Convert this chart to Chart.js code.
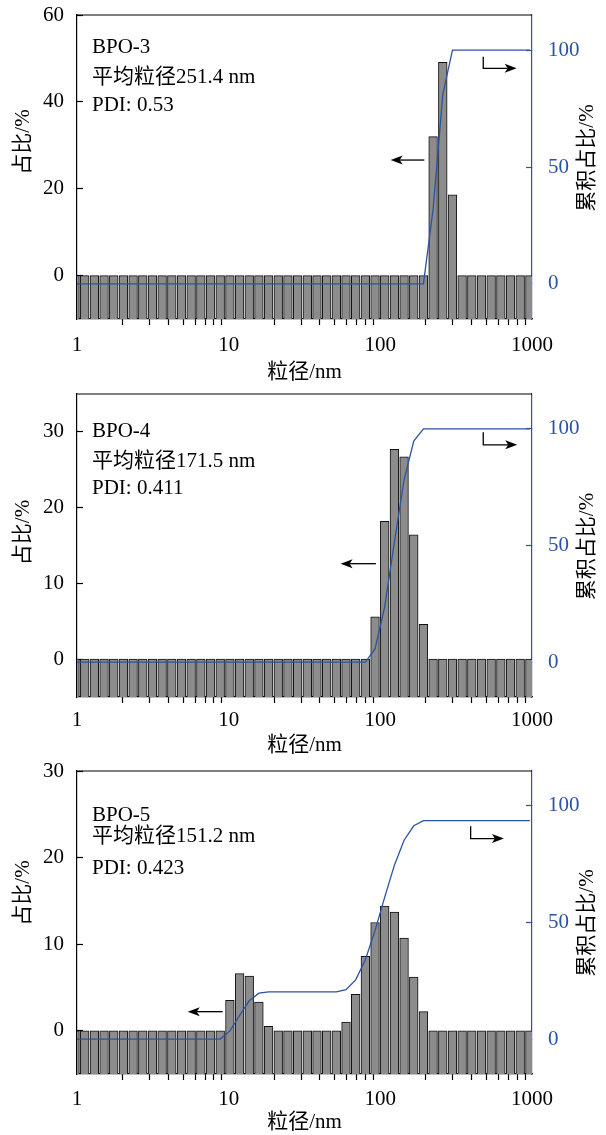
<!DOCTYPE html>
<html>
<head>
<meta charset="utf-8">
<script src="https://cdn.jsdelivr.net/npm/chart.js@4.4.1/dist/chart.umd.min.js"></script>
<style>
  html, body { margin: 0; padding: 0; background: #ffffff; }
  body { width: 606px; height: 1135px; position: relative; overflow: hidden; }
  canvas { position: absolute; left: 0; }
</style>
</head>
<body>
<canvas id="p1" width="606" height="385" style="top:0px"></canvas>
<canvas id="p2" width="606" height="379" style="top:379px"></canvas>
<canvas id="p3" width="606" height="379" style="top:756px"></canvas>
<script>
// DLS size classes (nm): centre of each bin
const binSizes = [
  0.971, 1.124, 1.302, 1.508, 1.747, 2.024, 2.344, 2.715, 3.145, 3.642, 4.219, 4.886,
  5.659, 6.555, 7.593, 8.795, 10.19, 11.80, 13.67, 15.83, 18.33, 21.23, 24.59, 28.49,
  33.00, 38.22, 44.26, 51.27, 59.38, 68.78, 79.68, 92.27, 106.9, 123.8, 143.4, 166.1,
  192.4, 222.8, 258.1, 298.9, 346.2, 401.0, 464.5, 538.0, 623.2, 721.8, 836.0, 968.3
];

// share of each size class (%)
const shareBPO3 = [
  0, 0, 0, 0, 0, 0, 0, 0, 0, 0, 0, 0,
  0, 0, 0, 0, 0, 0, 0, 0, 0, 0, 0, 0,
  0, 0, 0, 0, 0, 0, 0, 0, 0, 0, 0, 0,
  0, 32.0, 49.1, 18.6, 0, 0, 0, 0, 0, 0, 0, 0
];
const shareBPO4 = [
  0, 0, 0, 0, 0, 0, 0, 0, 0, 0, 0, 0,
  0, 0, 0, 0, 0, 0, 0, 0, 0, 0, 0, 0,
  0, 0, 0, 0, 0, 0, 0, 5.6, 18.2, 27.7, 26.7, 16.4,
  4.6, 0, 0, 0, 0, 0, 0, 0, 0, 0, 0, 0
];
const shareBPO5 = [
  0, 0, 0, 0, 0, 0, 0, 0, 0, 0, 0, 0,
  0, 0, 0, 0, 3.5, 6.6, 6.3, 3.3, 0.5, 0, 0, 0,
  0, 0, 0, 0, 1.0, 4.2, 8.6, 12.5, 14.4, 13.7, 10.7, 6.2,
  2.2, 0, 0, 0, 0, 0, 0, 0, 0, 0, 0, 0
];

// cumulative share (%)
const cumBPO3 = [
  0, 0, 0, 0, 0, 0, 0, 0, 0, 0, 0, 0,
  0, 0, 0, 0, 0, 0, 0, 0, 0, 0, 0, 0,
  0, 0, 0, 0, 0, 0, 0, 0, 0, 0, 0, 0,
  0, 32.0, 81.1, 100, 100, 100, 100, 100, 100, 100, 100, 100
];
const cumBPO4 = [
  0, 0, 0, 0, 0, 0, 0, 0, 0, 0, 0, 0,
  0, 0, 0, 0, 0, 0, 0, 0, 0, 0, 0, 0,
  0, 0, 0, 0, 0, 0, 0, 5.6, 23.8, 51.5, 78.2, 94.8,
  100, 100, 100, 100, 100, 100, 100, 100, 100, 100, 100, 100
];
const cumBPO5 = [
  0, 0, 0, 0, 0, 0, 0, 0, 0, 0, 0, 0,
  0, 0, 0, 0, 3.5, 10.1, 16.4, 19.7, 20.2, 20.2, 20.2, 20.2,
  20.2, 20.2, 20.2, 20.2, 21.2, 25.4, 34.0, 46.5, 60.9, 74.6, 85.3, 91.5,
  93.7, 93.7, 93.7, 93.7, 93.7, 93.7, 93.7, 93.7, 93.7, 93.7, 93.7, 93.7
];

// axis ticks
const xTickValues = [1, 2, 3, 4, 5, 6, 7, 8, 9, 10, 20, 30, 40, 50, 60, 70, 80, 90,
                     100, 200, 300, 400, 500, 600, 700, 800, 900, 1000];
const xTickLabels = ['1', '10', '100', '1000'];
const leftTicksBPO3 = [0, 20, 40, 60];
const leftTicksBPO4 = [0, 10, 20, 30];
const leftTicksBPO5 = [0, 10, 20, 30];
const rightTicks = [0, 50, 100];

// sample notes
const sampleNames = ['BPO-3', 'BPO-4', 'BPO-5'];
const meanSizes = ['251.4', '171.5', '151.2'];
const pdiValues = ['0.53', '0.411', '0.423'];

const xTitle = '粒径/nm';
const leftTitle = '占比/%';
const rightTitle = '累积占比/%';

const FONT_FAMILY = '"Liberation Serif", "Noto Sans CJK SC", serif';
const FONT_SIZE = 21;
const INK = '#000000';
const BLUE = '#2b53a3';
const BAR_FILL = '#8c8c8c';
const BAR_EDGE = '#111111';

Chart.defaults.font.family = FONT_FAMILY;
Chart.defaults.font.size = FONT_SIZE;
Chart.defaults.color = INK;

// per-panel layout
const panels = [
  { canvasId: 'p1', idx: 0, share: shareBPO3, cum: cumBPO3, yMin: -10, yMax: 60, yTicks: leftTicksBPO3,
    xAxisHeight: 66, xTickPad: 7.4, noteDy: [32.5, 62.5, 90],
    leftTitleShift: -25, rightTitleShift: -9,
    leftArrow: { tail: 195, tip: 117, y: 26.6 },
    rightArrow: { x: 477, yTop: 97.1, yBot: 92.2, tip: 792 } },
  { canvasId: 'p2', idx: 1, share: shareBPO4, cum: cumBPO4, yMin: -5, yMax: 35, yTicks: leftTicksBPO4,
    xAxisHeight: 61, xTickPad: 5.1, noteDy: [37.7, 67.7, 94.3],
    leftTitleShift: -13, rightTitleShift: 1,
    leftArrow: { tail: 93.5, tip: 54.7, y: 12.6 },
    rightArrow: { x: 477, yTop: 98.6, yBot: 93.2, tip: 799 } },
  { canvasId: 'p3', idx: 2, share: shareBPO5, cum: cumBPO5, yMin: -5, yMax: 30, yTicks: leftTicksBPO5,
    xAxisHeight: 61, xTickPad: 6.4, noteDy: [44.7, 65.7, 97],
    leftTitleShift: -29.5, rightTitleShift: 0.5,
    leftArrow: { tail: 9.13, tip: 5.37, y: 2.2 },
    rightArrow: { x: 394, yTop: 91.3, yBot: 86.0, tip: 653 } }
];

const HEAD_LEN = 12, HEAD_HALF = 4.5, HEAD_NOTCH = 3;

function arrowHead(ctx, tipX, tipY, dir) {
  ctx.beginPath();
  ctx.moveTo(tipX, tipY);
  ctx.lineTo(tipX - dir * HEAD_LEN, tipY - HEAD_HALF);
  ctx.lineTo(tipX - dir * (HEAD_LEN - HEAD_NOTCH), tipY);
  ctx.lineTo(tipX - dir * HEAD_LEN, tipY + HEAD_HALF);
  ctx.closePath();
  ctx.fill();
}

// fixed axis box sizes, no extra label padding pushed into the layout
function fixBox(size, horizontal) {
  return s => {
    if (horizontal) s.height = size; else s.width = size;
    s.paddingTop = 0; s.paddingBottom = 0; s.paddingLeft = 0; s.paddingRight = 0;
  };
}

function buildPanel(p) {
  const decor = {
    id: 'panelDecor',
    afterDraw(chart) {
      const { ctx, chartArea: a, scales } = chart;
      const sx = scales.x, sy = scales.y, sy2 = scales.y2;
      ctx.save();

      // top frame line
      ctx.strokeStyle = INK;
      ctx.lineWidth = 1.2;
      ctx.beginPath();
      ctx.moveTo(a.left, a.top);
      ctx.lineTo(a.right, a.top);
      ctx.stroke();

      // sample notes
      ctx.font = FONT_SIZE + 'px ' + FONT_FAMILY;
      ctx.fillStyle = INK;
      ctx.textAlign = 'left';
      ctx.textBaseline = 'middle';
      const notes = [sampleNames[p.idx], '平均粒径' + meanSizes[p.idx] + ' nm', 'PDI: ' + pdiValues[p.idx]];
      notes.forEach((t, i) => ctx.fillText(t, a.left + 15, a.top + p.noteDy[i]));

      // y-axis titles, both read bottom to top
      const midY = (a.top + a.bottom) / 2;
      ctx.textAlign = 'center';
      ctx.save();
      ctx.translate(23.5, midY + p.leftTitleShift);
      ctx.rotate(-Math.PI / 2);
      ctx.fillText(leftTitle, 0, 0);
      ctx.restore();
      ctx.save();
      ctx.translate(587, midY + p.rightTitleShift);
      ctx.rotate(-Math.PI / 2);
      ctx.fillText(rightTitle, 0, 0);
      ctx.restore();

      // arrow pointing at the share axis
      ctx.strokeStyle = INK;
      ctx.fillStyle = INK;
      ctx.lineWidth = 1.3;
      const la = p.leftArrow;
      const ly = sy.getPixelForValue(la.y);
      const lTip = sx.getPixelForValue(la.tip);
      ctx.beginPath();
      ctx.moveTo(sx.getPixelForValue(la.tail), ly);
      ctx.lineTo(lTip + (HEAD_LEN - HEAD_NOTCH), ly);
      ctx.stroke();
      arrowHead(ctx, lTip, ly, -1);

      // elbow arrow pointing at the cumulative axis
      const ra = p.rightArrow;
      const rx = sx.getPixelForValue(ra.x);
      const rTip = sx.getPixelForValue(ra.tip);
      const rBot = sy2.getPixelForValue(ra.yBot);
      ctx.beginPath();
      ctx.moveTo(rx, sy2.getPixelForValue(ra.yTop));
      ctx.lineTo(rx, rBot);
      ctx.lineTo(rTip - (HEAD_LEN - HEAD_NOTCH), rBot);
      ctx.stroke();
      arrowHead(ctx, rTip, rBot, 1);

      ctx.restore();
    }
  };

  return new Chart(document.getElementById(p.canvasId), {
    type: 'bar',
    data: {
      labels: binSizes,
      datasets: [
        {
          type: 'line',
          data: p.cum,
          xAxisID: 'x',
          yAxisID: 'y2',
          borderColor: BLUE,
          borderWidth: 1.3,
          pointRadius: 0,
          tension: 0,
          fill: false,
          clip: 0,
          order: 0
        },
        {
          type: 'bar',
          data: p.share,
          xAxisID: 'x',
          yAxisID: 'y',
          base: p.yMin,
          backgroundColor: BAR_FILL,
          borderColor: BAR_EDGE,
          borderWidth: 1,
          barThickness: 'flex',
          categoryPercentage: 1,
          barPercentage: 0.9,
          clip: 0,
          order: 1
        }
      ]
    },
    options: {
      responsive: false,
      animation: false,
      devicePixelRatio: 1,
      layout: { padding: { top: 15, left: 0, right: 0, bottom: 0 }, autoPadding: false },
      plugins: { legend: { display: false }, tooltip: { enabled: false } },
      scales: {
        x: {
          type: 'logarithmic',
          position: 'bottom',
          min: 1,
          max: 1000,
          offset: false,
          afterFit: fixBox(p.xAxisHeight, true),
          afterBuildTicks: s => {
            s.ticks = xTickValues.map(v => ({ value: v, major: xTickLabels.includes(String(v)) }));
          },
          ticks: {
            autoSkip: false,
            maxRotation: 0,
            minRotation: 0,
            padding: p.xTickPad,
            color: INK,
            callback: v => (xTickLabels.includes(String(v)) ? String(v) : '')
          },
          grid: {
            offset: false,
            drawOnChartArea: false,
            drawTicks: true,
            tickLength: 6,
            tickWidth: 1.2,
            tickColor: c => (c.tick && c.tick.major ? 'rgba(0,0,0,0)' : INK)
          },
          border: { display: true, color: INK, width: 1.2 },
          title: { display: true, text: xTitle, color: INK, padding: 0 }
        },
        y: {
          type: 'linear',
          position: 'left',
          min: p.yMin,
          max: p.yMax,
          afterFit: fixBox(77, false),
          afterBuildTicks: s => { s.ticks = p.yTicks.map(v => ({ value: v })); },
          ticks: { padding: 19, color: INK, callback: v => String(v) },
          grid: { drawOnChartArea: false, drawTicks: true, tickLength: -6, tickWidth: 1.2, tickColor: INK },
          border: { display: true, color: INK, width: 1.2 }
        },
        y2: {
          type: 'linear',
          position: 'right',
          min: -15,
          max: 115,
          afterFit: fixBox(74, false),
          afterBuildTicks: s => { s.ticks = rightTicks.map(v => ({ value: v })); },
          ticks: { padding: 22, color: BLUE, callback: v => String(v) },
          grid: { drawOnChartArea: false, drawTicks: true, tickLength: -6, tickWidth: 1.2, tickColor: BLUE },
          border: { display: true, color: BLUE, width: 1.2 }
        }
      }
    },
    plugins: [decor]
  });
}

panels.forEach(buildPanel);
</script>
</body>
</html>
